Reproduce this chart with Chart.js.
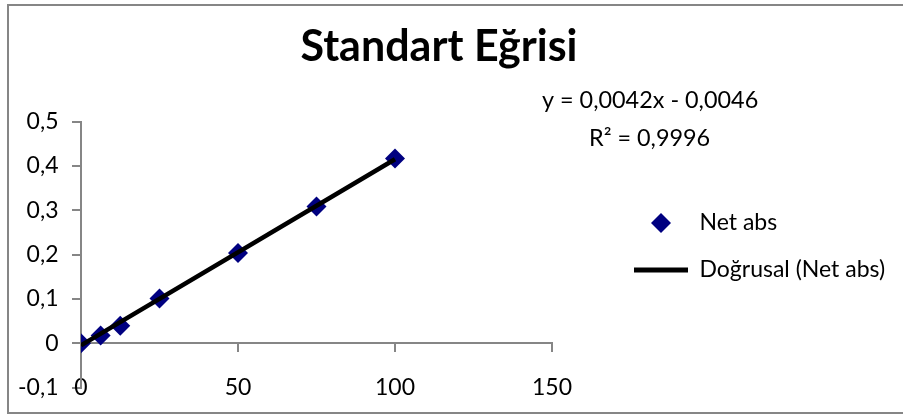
<!DOCTYPE html>
<html>
<head>
<meta charset="utf-8">
<script src="https://cdn.jsdelivr.net/npm/chart.js@4.4.1/dist/chart.umd.min.js"></script>
<style>
  html, body { margin: 0; padding: 0; background: #ffffff; }
  #wrap { width: 903px; height: 415px; position: relative; }
</style>
</head>
<body>
<div id="wrap"><canvas id="chart" width="903" height="415"></canvas></div>
<script>
// Calibration standards: concentration vs. net absorbance
const concentrations = [0, 6.25, 12.5, 25, 50, 75, 100];
const netAbs = [0.000, 0.018, 0.040, 0.101, 0.204, 0.309, 0.417];

// Linear trendline (least squares) as reported on the chart
const trendSlope = 0.0042;
const trendIntercept = -0.0046;
const trendR2 = '0,9996';
const trendRange = [0, 100];

// Axis ticks and their Turkish-locale labels
const xTickValues = [0, 50, 100, 150];
const xTickLabels = ['0', '50', '100', '150'];
const yTickValues = [-0.1, 0, 0.1, 0.2, 0.3, 0.4, 0.5];
const yTickLabels = ['-0,1', '0', '0,1', '0,2', '0,3', '0,4', '0,5'];

const chartTitle = 'Standart Eğrisi';
const seriesName = 'Net abs';
const trendName = 'Doğrusal (Net abs)';

const NAVY = '#000080';
const AXIS_GREY = '#868686';
const FONT = 'Lato, Carlito, "Open Sans", sans-serif';
const MARKER_R = 10;
const LEGEND_FONT = 23;
const LEGEND_PAD = 24;
const LEGEND_SAMPLE_W = 54;

const fmtComma = v => v.toFixed(4).replace('.', ',');
const equationText = 'y = ' + fmtComma(trendSlope) + 'x ' + (trendIntercept < 0 ? '- ' : '+ ') + fmtComma(Math.abs(trendIntercept));
const r2Text = 'R\u00B2 = ' + trendR2;

// Layout: plot area from x=81 to x=552, legend entries starting at x=634,
// title centred at x=439. The legend box is sized from its widest label.
const probe = document.createElement('canvas').getContext('2d');
probe.font = LEGEND_FONT + 'px ' + FONT;
const legendTextW = Math.max(probe.measureText(trendName).width, probe.measureText(seriesName).width);
const legendLeft = 634 - LEGEND_PAD;
const legendNatural = LEGEND_PAD + LEGEND_SAMPLE_W + LEGEND_FONT / 2 + legendTextW + 10;
const padRight = 903 - legendLeft - legendNatural + 4;
const padLeft = padRight - 25;
const legendWidth = 903 - padRight - legendLeft;

// Diamond glyph for the legend entry of the data series
const legendDiamond = document.createElement('canvas');
legendDiamond.width = Math.ceil(MARKER_R * 2 + 2);
legendDiamond.height = legendDiamond.width;
(function () {
  const g = legendDiamond.getContext('2d');
  const c = legendDiamond.width / 2;
  g.fillStyle = NAVY;
  g.beginPath();
  g.moveTo(c, c - MARKER_R);
  g.lineTo(c + MARKER_R, c);
  g.lineTo(c, c + MARKER_R);
  g.lineTo(c - MARKER_R, c);
  g.closePath();
  g.fill();
})();

// White background and grey chart frame
const framePlugin = {
  id: 'frame',
  beforeDraw(chart) {
    const ctx = chart.ctx;
    ctx.save();
    ctx.fillStyle = '#ffffff';
    ctx.fillRect(0, 0, chart.width, chart.height);
    ctx.strokeStyle = AXIS_GREY;
    ctx.lineWidth = 2;
    ctx.strokeRect(8, 5, chart.width + 10, 408);
    ctx.restore();
  }
};

// Trendline equation and R² label
const equationPlugin = {
  id: 'equation',
  afterDraw(chart) {
    const ctx = chart.ctx;
    ctx.save();
    ctx.fillStyle = '#000000';
    ctx.font = '23.4px ' + FONT;
    ctx.textBaseline = 'middle';
    ctx.textAlign = 'left';
    ctx.fillText(equationText, 542, 100);
    ctx.fillText(r2Text, 589, 138);
    ctx.restore();
  }
};

new Chart(document.getElementById('chart'), {
  type: 'scatter',
  data: {
    datasets: [
      {
        label: seriesName,
        data: concentrations.map((x, i) => ({ x: x, y: netAbs[i] })),
        pointStyle: 'rectRot',
        pointRadius: MARKER_R,
        pointHoverRadius: MARKER_R,
        backgroundColor: NAVY,
        borderColor: NAVY,
        borderWidth: 0,
        order: 2
      },
      {
        type: 'line',
        label: trendName,
        data: trendRange.map(x => ({ x: x, y: trendSlope * x + trendIntercept })),
        borderColor: '#000000',
        borderWidth: 4.5,
        pointRadius: 0,
        fill: false,
        tension: 0,
        order: 1
      }
    ]
  },
  options: {
    responsive: false,
    animation: false,
    events: [],
    layout: { padding: { top: 0, left: padLeft, right: padRight, bottom: 21.7 } },
    plugins: {
      title: {
        display: true,
        text: chartTitle,
        color: '#000000',
        font: { family: FONT, size: 43, weight: 'bold' },
        padding: { top: 21, bottom: 49.1 }
      },
      legend: {
        position: 'right',
        align: 'center',
        maxWidth: legendWidth,
        title: { display: true, text: '', font: { size: 10 }, padding: { top: 87.7, bottom: 0 } },
        labels: {
          usePointStyle: true,
          pointStyleWidth: LEGEND_SAMPLE_W,
          padding: LEGEND_PAD,
          color: '#000000',
          font: { family: FONT, size: LEGEND_FONT },
          generateLabels: () => [
            { text: seriesName, pointStyle: legendDiamond, fillStyle: NAVY, strokeStyle: NAVY, lineWidth: 0, hidden: false, datasetIndex: 0, fontColor: '#000000' },
            { text: trendName, pointStyle: 'line', fillStyle: '#000000', strokeStyle: '#000000', lineWidth: 5, hidden: false, datasetIndex: 1, fontColor: '#000000' }
          ]
        }
      },
      tooltip: { enabled: false }
    },
    scales: {
      x: {
        type: 'linear',
        position: { y: 0 },
        min: 0,
        max: 150,
        afterBuildTicks: s => { s.ticks = xTickValues.map(v => ({ value: v })); },
        ticks: {
          callback: (v, i) => xTickLabels[i],
          color: '#000000',
          font: { family: FONT, size: 23 },
          padding: 22.5,
          maxRotation: 0,
          autoSkip: false
        },
        grid: { drawOnChartArea: false, drawTicks: true, tickLength: 8, color: AXIS_GREY, lineWidth: 2 },
        border: { display: true, color: AXIS_GREY, width: 2 }
      },
      y: {
        type: 'linear',
        position: 'left',
        min: -0.1,
        max: 0.5,
        afterBuildTicks: s => { s.ticks = yTickValues.map(v => ({ value: v })); },
        afterFit: s => { s.width = 81 - padLeft; },
        ticks: {
          callback: (v, i) => yTickLabels[i],
          color: '#000000',
          font: { family: FONT, size: 23 },
          padding: 13.5,
          autoSkip: false
        },
        grid: { drawOnChartArea: false, drawTicks: true, tickLength: 9, color: AXIS_GREY, lineWidth: 2 },
        border: { display: true, color: AXIS_GREY, width: 2 }
      },
      legendGap: {
        type: 'linear',
        position: 'right',
        display: true,
        afterFit: s => { s.width = legendLeft - 552; },
        ticks: { display: false },
        grid: { display: false, drawTicks: false },
        border: { display: false }
      }
    }
  },
  plugins: [framePlugin, equationPlugin]
});
</script>
</body>
</html>
